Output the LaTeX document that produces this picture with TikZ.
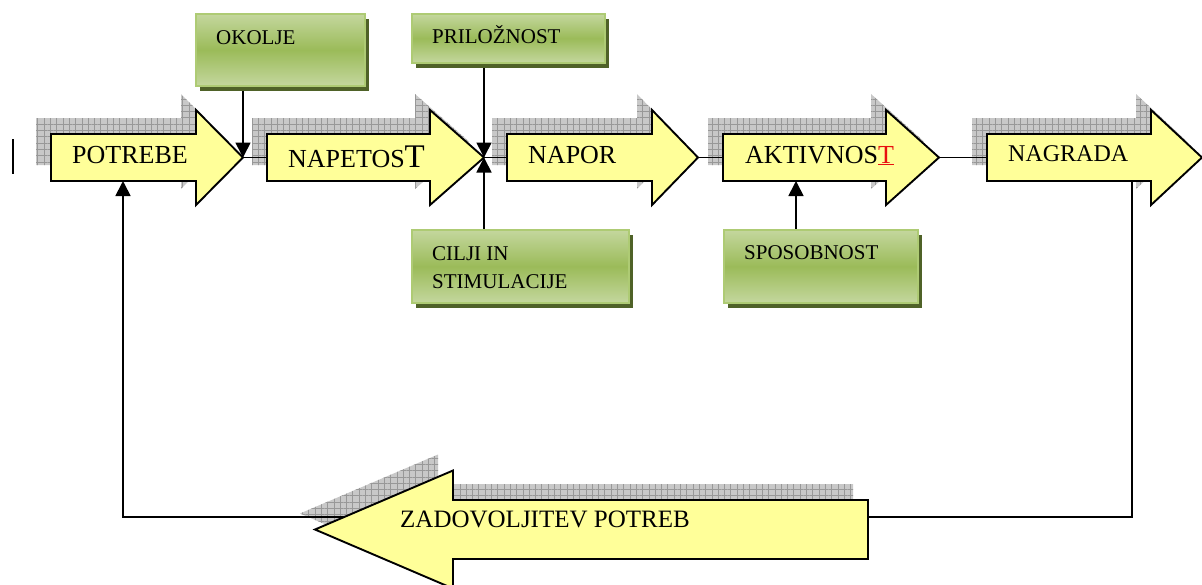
\documentclass[tikz,border=0pt]{standalone}
\usepackage{fontspec}
\setmainfont{Liberation Serif}
\usetikzlibrary{arrows.meta,patterns.meta,shadows}

\definecolor{arrowfill}{HTML}{FFFF99}
\definecolor{boxlight}{HTML}{C4D79E}
\definecolor{boxmid}{HTML}{9BBB59}
\definecolor{boxedge}{HTML}{AECB74}
\definecolor{boxshade}{HTML}{4F6228}
\definecolor{shadefill}{HTML}{C8C8C8}
\definecolor{shadegrid}{HTML}{989898}
\definecolor{markred}{HTML}{E81010}

\pgfdeclarelayer{back}
\pgfdeclarelayer{lines}
\pgfsetlayers{back,lines,main}

% right-pointing block arrow: options, left x, head base x, tip x, centre y
\newcommand\rightblock[5]{%
  \path[#1] ({#2},{#5-23.5}) -- ({#3},{#5-23.5}) -- ({#3},{#5-47.5})
    -- ({#4},{#5}) -- ({#3},{#5+47.5}) -- ({#3},{#5+23.5})
    -- ({#2},{#5+23.5}) -- cycle;}
% left-pointing block arrow: options, right x, head base x, tip x, centre y
\newcommand\leftblock[5]{%
  \path[#1] ({#2},{#5-29.5}) -- ({#3},{#5-29.5}) -- ({#3},{#5-59})
    -- ({#4},{#5}) -- ({#3},{#5+59}) -- ({#3},{#5+29.5})
    -- ({#2},{#5+29.5}) -- cycle;}

\tikzset{
  blockarrow/.style={draw=black, line width=1.9pt, fill=arrowfill, line join=miter},
  blockshadow/.style={shift={(-15,-16)}, fill=shadefill,
    postaction={pattern={Hatch[angle=0,distance=6.3pt,line width=0.7pt]},
                pattern color=shadegrid}},
  greenbox/.style={draw=boxedge, line width=1.8pt, anchor=north west,
    top color=boxlight, bottom color=boxlight, middle color=boxmid,
    drop shadow={shadow xshift=4pt, shadow yshift=-5pt, fill=boxshade, opacity=1}},
  conn/.style={draw=black, line width=1.7pt},
  feed/.style={conn, -{Triangle[width=15pt,length=15pt]}},
  arrowtext/.style={anchor=base west, inner sep=0pt, font=\fontsize{26}{30}\selectfont},
  boxtext/.style={anchor=base west, inner sep=0pt, align=left,
    font=\fontsize{21}{28}\selectfont},
}

\begin{document}
\begin{tikzpicture}[x=1pt,y=-1pt]
\useasboundingbox (0,0) rectangle (1202,584);

% named points on the block arrows
\coordinate (potrebe-tip) at (243,157.5);
\coordinate (potrebe-in) at (123,181);
\coordinate (napetost-tail) at (267,157.5);
\coordinate (napetost-tip) at (484,157.5);
\coordinate (napor-tail) at (507,157.5);
\coordinate (napor-tip) at (698,157.5);
\coordinate (aktiv-tail) at (723,157.5);
\coordinate (aktiv-tip) at (939,157.5);
\coordinate (aktiv-in) at (796,181);
\coordinate (nagrada-tail) at (987,157.5);
\coordinate (nagrada-out) at (1132,181);
\coordinate (zadov-in) at (868,517);
\coordinate (zadov-out) at (400,517);

% checkered shadows behind the block arrows
\begin{pgfonlayer}{back}
  \rightblock{blockshadow}{51}{196}{243}{157.5}
  \rightblock{blockshadow}{267}{430}{484}{157.5}
  \rightblock{blockshadow}{507}{652}{698}{157.5}
  \rightblock{blockshadow}{723}{886}{939}{157.5}
  \rightblock{blockshadow}{987}{1151}{1202}{157.5}
  \leftblock{blockshadow}{868}{453}{315}{529.5}
\end{pgfonlayer}

% block arrows of the chain
\rightblock{blockarrow}{51}{196}{243}{157.5}
\rightblock{blockarrow}{267}{430}{484}{157.5}
\rightblock{blockarrow}{507}{652}{698}{157.5}
\rightblock{blockarrow}{723}{886}{939}{157.5}
\rightblock{blockarrow}{987}{1151}{1202}{157.5}
\leftblock{blockarrow}{868}{453}{315}{529.5}

% labels on the block arrows
\node[arrowtext] (potrebe) at (72,163) {POTREBE};
\node[arrowtext] (napetost) at (288,167) {NAPETOS{\fontsize{33}{36}\selectfont T}};
\node[arrowtext] (napor) at (528,163) {NAPOR};
\node[arrowtext] (aktiv) at (745,163) {AKTIVNOS{\color{markred}\underline{T}}};
\node[arrowtext, font=\fontsize{24}{28}\selectfont] (nagrada) at (1008,161) {NAGRADA};
\node[arrowtext, font=\fontsize{25}{28}\selectfont] (zadov) at (400,527) {ZADOVOLJITEV POTREB};

% green influence boxes
\node[greenbox, minimum width=169pt, minimum height=72pt] (okolje) at (195,13) {};
\node[greenbox, minimum width=193pt, minimum height=49pt] (prilo) at (411,13) {};
\node[greenbox, minimum width=217pt, minimum height=73pt] (cilji) at (411,229) {};
\node[greenbox, minimum width=194pt, minimum height=73pt] (sposob) at (723,229) {};

\node[boxtext] (okolje-t) at (216,44) {OKOLJE};
\node[boxtext] (prilo-t) at (432,43) {PRILOŽNOST};
\node[boxtext] (cilji-t) at (432,288) {CILJI IN\\STIMULACIJE};
\node[boxtext] (sposob-t) at (744,259) {SPOSOBNOST};

% connectors
\begin{pgfonlayer}{lines}
  \draw[conn] (potrebe-tip) -- (napetost-tail);
  \draw[conn] (napetost-tip) -- (napor-tail);
  \draw[conn] (napor-tip) -- (aktiv-tail);
  \draw[conn] (aktiv-tip) -- (nagrada-tail);
  \draw[feed] (potrebe-tip |- okolje.south) -- (potrebe-tip);
  \draw[feed] (napetost-tip |- prilo.south) -- (napetost-tip);
  \draw[feed] (napetost-tip |- cilji.north) -- (napetost-tip);
  \draw[feed] (aktiv-in |- sposob.north) -- (aktiv-in);
  \draw[conn] (nagrada-out) |- (zadov-in);
  \draw[feed] (zadov-out) -| (potrebe-in);
\end{pgfonlayer}

% stray text cursor mark at the left margin
\draw[line width=1.7pt] (13,139) -- (13,174);
\end{tikzpicture}
\end{document}
